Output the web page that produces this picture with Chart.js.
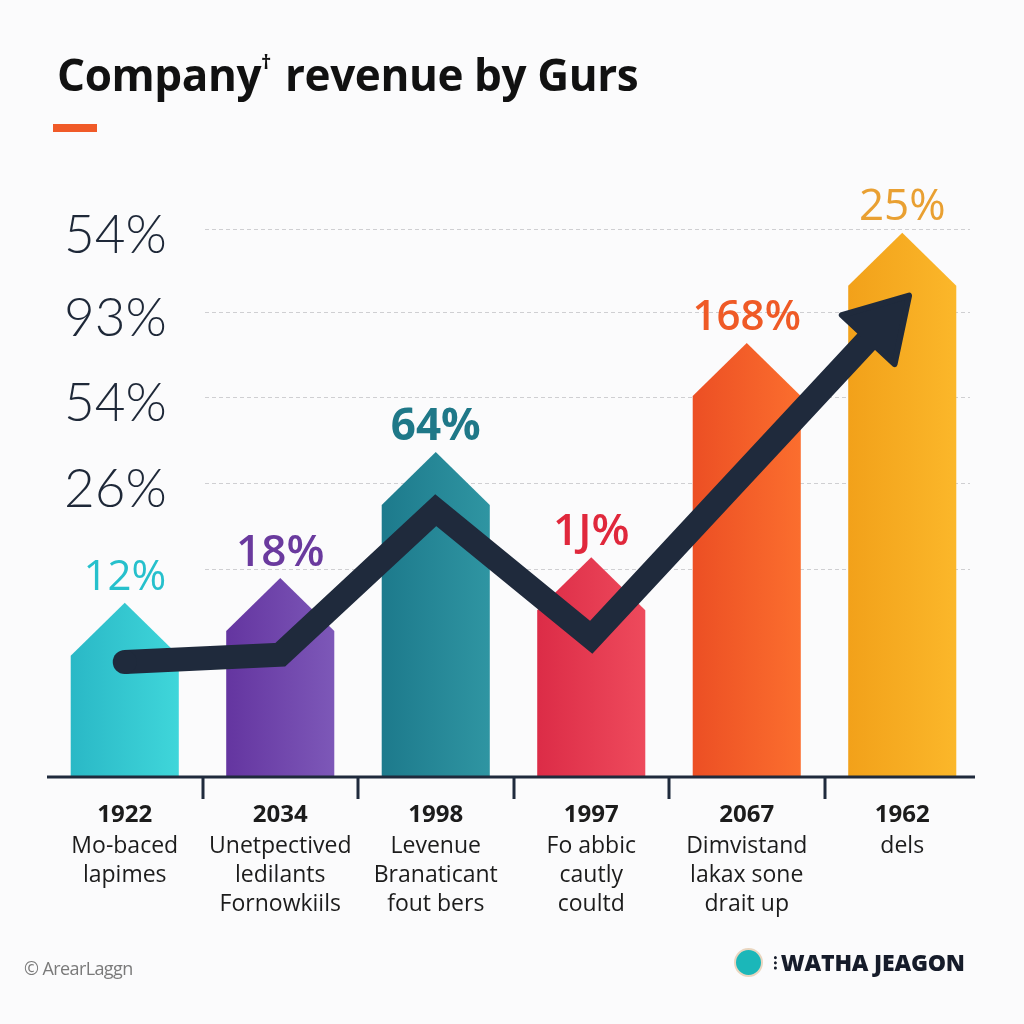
<!DOCTYPE html>
<html>
<head>
<meta charset="utf-8">
<script src="https://cdn.jsdelivr.net/npm/chart.js@4.4.0/dist/chart.umd.min.js"></script>
<style>
  html, body { margin: 0; padding: 0; background: #fbfbfc; }
  #wrap { position: relative; width: 1024px; height: 1024px; overflow: hidden; }
  #grafico { position: absolute; left: 0; top: 0; }
  #titulo { position: absolute; left: 57px; top: 44px; margin: 0; font-family: "Open Sans", sans-serif; font-weight: 700; font-size: 44px; color: #111; letter-spacing: -0.4px; white-space: nowrap; }
  #titulo sup { font-size: 20px; position: relative; top: -6px; margin-right: 14px; }
  #raya { position: absolute; left: 53px; top: 124px; width: 44px; height: 8px; background: #f05a28; }
  #copy { position: absolute; left: 24px; top: 956px; font-family: "Open Sans", sans-serif; font-size: 18px; color: #7a7a7a; letter-spacing: -0.6px; }
  #logo { position: absolute; left: 734px; top: 946px; display: flex; align-items: center; font-family: "Open Sans", sans-serif; font-weight: 800; font-size: 23px; color: #161c2a; letter-spacing: -0.2px; }
  #logo .circulo { width: 25px; height: 25px; border-radius: 50%; background: #1bb7b9; border: 2px solid #e9d6c0; margin-right: 10px; }
  #logo .puntos { font-size: 18px; margin-right: 3px; }
</style>
</head>
<body>
<div id="wrap">
  <canvas id="grafico" width="1024" height="1024"></canvas>
  <h1 id="titulo">Company<sup>†</sup>revenue by Gurs</h1>
  <div id="raya"></div>
  <div id="copy">© ArearLaggn</div>
  <div id="logo"><div class="circulo"></div><span class="puntos">⁝</span>WATHA JEAGON</div>
</div>
<script>
// datos
let anios = ["1922", "2034", "1998", "1997", "2067", "1962"];
let descripciones = [
    ["Mo-baced", "lapimes"],
    ["Unetpectived", "ledilants", "Fornowkiils"],
    ["Levenue", "Branaticant", "fout bers"],
    ["Fo abbic", "cautly", "coultd"],
    ["Dimvistand", "lakax sone", "drait up"],
    ["dels"]
];
let valoresBarras = [31.8, 36.3, 59.3, 40.1, 79.2, 99.3];
let etiquetasValor = ["12%", "18%", "64%", "1J%", "168%", "25%"];
let valoresTendencia = [21.0, 22.3, 48.7, 25.5, null, 86.5];
let valoresGrilla = [100, 84.9, 69.3, 53.6, 38];
let etiquetasY = ["54%", "93%", "54%", "26%"];

// estilos
let coloresIzq = ["#2ab8c6", "#6435a0", "#1d7a8c", "#dc2c47", "#ec4f24", "#f2a11a"];
let coloresDer = ["#3fd6da", "#7d58b8", "#2f95a2", "#ee4a5c", "#fb6e2e", "#fbb72a"];
let coloresTexto = ["#26c0cc", "#6a3a9e", "#1f7888", "#e0283c", "#ef5a26", "#e9a032"];
let pesosTexto = ["500", "600", "700", "600", "600", "400"];
let tamaniosTexto = [42, 44, 44, 44, 42, 44];
let colorOscuro = "#1f2a3c";

// punta de la flecha (se calcula antes de dibujar la linea)
let flecha = null;
function calcularFlecha(chart) {
    const linea = chart.getDatasetMeta(1).data;
    const a = linea[3], b = linea[5];
    const dx = b.x - a.x, dy = b.y - a.y;
    const largo = Math.sqrt(dx * dx + dy * dy);
    const ux = dx / largo, uy = dy / largo;
    flecha = {
        ux, uy,
        tipX: b.x + ux * 10, tipY: b.y + uy * 10,
        baseX: b.x - ux * 50, baseY: b.y - uy * 50
    };
}

const pluginDibujo = {
    id: "dibujo",
    beforeDatasetsDraw(chart) {
        const ctx = chart.ctx;
        const y = chart.scales.y;
        ctx.save();
        ctx.strokeStyle = "#cfcfd2";
        ctx.lineWidth = 1;
        ctx.setLineDash([4, 3]);
        valoresGrilla.forEach(v => {
            const py = Math.round(y.getPixelForValue(v)) + 0.5;
            ctx.beginPath();
            ctx.moveTo(205, py);
            ctx.lineTo(970, py);
            ctx.stroke();
        });
        ctx.restore();
    },
    beforeDatasetDraw(chart, args) {
        const ctx = chart.ctx;
        if (args.index === 1) {
            // recorto la linea en la base de la flecha
            calcularFlecha(chart);
            const f = flecha;
            const px = -f.uy, py = f.ux;
            ctx.save();
            ctx.beginPath();
            ctx.moveTo(f.baseX + px * 3000, f.baseY + py * 3000);
            ctx.lineTo(f.baseX - px * 3000, f.baseY - py * 3000);
            ctx.lineTo(f.baseX - px * 3000 - f.ux * 3000, f.baseY - py * 3000 - f.uy * 3000);
            ctx.lineTo(f.baseX + px * 3000 - f.ux * 3000, f.baseY + py * 3000 - f.uy * 3000);
            ctx.closePath();
            ctx.clip();
            return;
        }
        const meta = chart.getDatasetMeta(0);
        meta.data.forEach((barra, i) => {
            const izq = barra.x - barra.width / 2;
            const der = barra.x + barra.width / 2;
            const punta = barra.y;
            const hombro = punta + 53;
            const grad = ctx.createLinearGradient(izq, 0, der, 0);
            grad.addColorStop(0, coloresIzq[i]);
            grad.addColorStop(1, coloresDer[i]);
            ctx.save();
            ctx.fillStyle = grad;
            ctx.beginPath();
            ctx.moveTo(izq, barra.base);
            ctx.lineTo(izq, hombro);
            ctx.lineTo(barra.x, punta);
            ctx.lineTo(der, hombro);
            ctx.lineTo(der, barra.base);
            ctx.closePath();
            ctx.fill();
            ctx.restore();
        });
        return false;
    },
    afterDatasetDraw(chart, args) {
        if (args.index !== 1) return;
        const ctx = chart.ctx;
        ctx.restore();
        const f = flecha;
        ctx.save();
        ctx.fillStyle = colorOscuro;
        ctx.strokeStyle = colorOscuro;
        ctx.lineWidth = 6;
        ctx.lineJoin = "round";
        ctx.beginPath();
        ctx.moveTo(f.tipX, f.tipY);
        ctx.lineTo(f.baseX - f.uy * 36, f.baseY + f.ux * 36);
        ctx.lineTo(f.baseX + f.uy * 36, f.baseY - f.ux * 36);
        ctx.closePath();
        ctx.fill();
        ctx.stroke();
        ctx.restore();
    },
    afterDatasetsDraw(chart) {
        const ctx = chart.ctx;
        const area = chart.chartArea;
        const barras = chart.getDatasetMeta(0).data;

        // eje x y marcas
        ctx.save();
        ctx.strokeStyle = colorOscuro;
        ctx.lineWidth = 3;
        ctx.beginPath();
        ctx.moveTo(area.left, area.bottom);
        ctx.lineTo(975, area.bottom);
        for (let i = 0; i < barras.length - 1; i++) {
            const mx = Math.round((barras[i].x + barras[i + 1].x) / 2);
            ctx.moveTo(mx, area.bottom);
            ctx.lineTo(mx, area.bottom + 22);
        }
        ctx.stroke();
        ctx.restore();

        // etiquetas de valor
        ctx.save();
        ctx.textAlign = "center";
        ctx.textBaseline = "middle";
        barras.forEach((barra, i) => {
            ctx.fillStyle = coloresTexto[i];
            ctx.font = pesosTexto[i] + " " + tamaniosTexto[i] + "px 'Open Sans', sans-serif";
            ctx.fillText(etiquetasValor[i], barra.x, barra.y - 25);
        });

        // etiquetas eje x
        ctx.fillStyle = "#1c1c1c";
        barras.forEach((barra, i) => {
            ctx.font = "700 24px 'Open Sans', sans-serif";
            ctx.fillText(anios[i], barra.x, 815);
            ctx.font = "400 23px 'Open Sans', sans-serif";
            descripciones[i].forEach((txt, j) => {
                ctx.fillText(txt, barra.x, 846 + j * 29);
            });
        });

        // etiquetas eje y
        const y = chart.scales.y;
        ctx.textAlign = "left";
        ctx.fillStyle = "#1e2838";
        ctx.font = "300 53px Lato, sans-serif";
        etiquetasY.forEach((txt, i) => {
            ctx.fillText(txt, 64, y.getPixelForValue(valoresGrilla[i]) + 7);
        });
        ctx.restore();

        // inicio redondeado de la linea
        const p0 = chart.getDatasetMeta(1).data[0];
        ctx.save();
        ctx.fillStyle = colorOscuro;
        ctx.beginPath();
        ctx.arc(p0.x, p0.y, 12, 0, Math.PI * 2);
        ctx.fill();
        ctx.restore();
    }
};

const config = {
    type: "bar",
    data: {
        labels: anios,
        datasets: [
            {
                type: "bar",
                data: valoresBarras,
                backgroundColor: coloresIzq,
                barPercentage: 0.695,
                categoryPercentage: 1,
                order: 2
            },
            {
                type: "line",
                data: valoresTendencia,
                borderColor: colorOscuro,
                borderWidth: 24,
                pointRadius: 0,
                tension: 0,
                spanGaps: true,
                borderCapStyle: "butt",
                borderJoinStyle: "miter",
                order: 1
            }
        ]
    },
    options: {
        responsive: false,
        animation: false,
        devicePixelRatio: 1,
        layout: { padding: { left: 47, right: 44, top: 229, bottom: 247 } },
        plugins: { legend: { display: false }, tooltip: { enabled: false } },
        scales: {
            x: { display: false },
            y: { display: false, min: 0, max: 100 }
        }
    },
    plugins: [pluginDibujo]
};

const miGrafico = new Chart(document.getElementById("grafico"), config);
</script>
</body>
</html>
